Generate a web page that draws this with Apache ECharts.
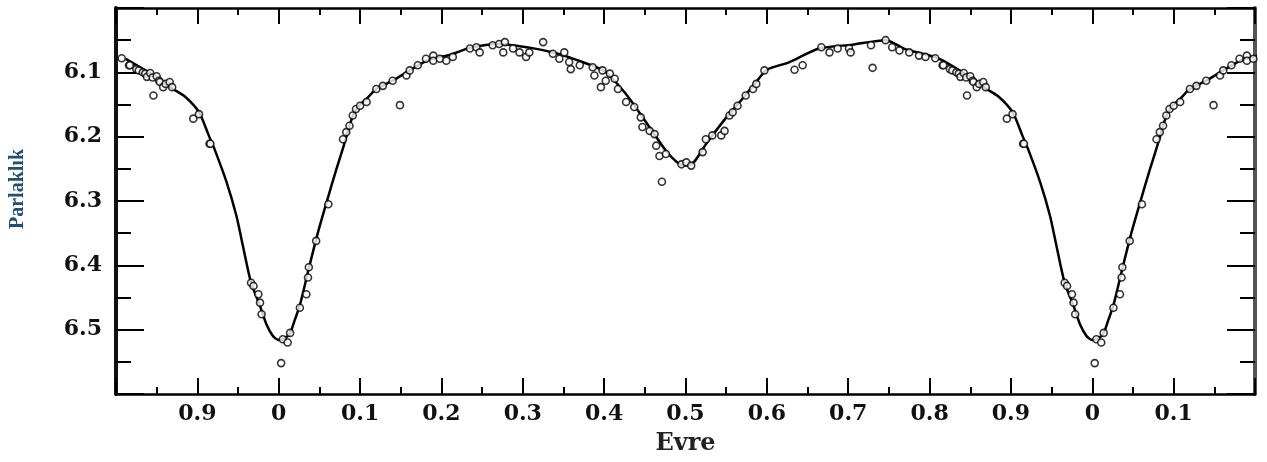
<!DOCTYPE html>
<html>
<head>
<meta charset="utf-8">
<script src="https://cdn.jsdelivr.net/npm/echarts@6/dist/echarts.min.js"></script>
<style>
  html, body { margin: 0; padding: 0; background: #fff; }
  #chart { width: 1267px; height: 462px; }
</style>
</head>
<body>
<div id="chart"></div>
<script>
// model light curve, one cycle (phase, magnitude)
const curvePhase = [0.000, 0.007, 0.014, 0.020, 0.026, 0.036, 0.048, 0.060, 0.071, 0.079, 0.085, 0.091, 0.097, 0.108, 0.120, 0.140, 0.161, 0.185, 0.210, 0.235, 0.270, 0.310, 0.340, 0.360, 0.400, 0.427, 0.443, 0.460, 0.476, 0.490, 0.500, 0.510, 0.525, 0.549, 0.570, 0.587, 0.600, 0.628, 0.664, 0.705, 0.746, 0.770, 0.812, 0.853, 0.869, 0.885, 0.902, 0.914, 0.921, 0.936, 0.948, 0.956, 0.966, 0.977, 0.985, 0.993, 1.000];
const curveMag = [6.516, 6.514, 6.505, 6.484, 6.462, 6.410, 6.350, 6.297, 6.250, 6.218, 6.192, 6.168, 6.154, 6.141, 6.126, 6.113, 6.097, 6.080, 6.073, 6.062, 6.056, 6.062, 6.070, 6.078, 6.098, 6.134, 6.162, 6.193, 6.222, 6.240, 6.245, 6.240, 6.212, 6.172, 6.141, 6.115, 6.096, 6.084, 6.063, 6.057, 6.050, 6.064, 6.079, 6.110, 6.125, 6.138, 6.162, 6.198, 6.219, 6.271, 6.323, 6.370, 6.427, 6.463, 6.492, 6.510, 6.516];

// observations, one cycle (phase, magnitude)
const obsPhase = [0.807, 0.817, 0.825, 0.833, 0.842, 0.838, 0.850, 0.854, 0.866, 0.858, 0.846, 0.895, 0.915,
  0.754, 0.763, 0.775, 0.787, 0.795, 0.816, 0.828, 0.836, 0.845, 0.853, 0.861, 0.869, 0.902, 0.916,
  0.966, 0.969, 0.975, 0.977, 0.979, 0.005, 0.011, 0.014, 0.003,
  0.026, 0.034, 0.036, 0.037, 0.046, 0.061, 0.079, 0.083, 0.087, 0.091, 0.095, 0.100, 0.108, 0.120, 0.128, 0.140, 0.149, 0.157, 0.161, 0.171, 0.181, 0.190, 0.190, 0.198, 0.206, 0.214, 0.235, 0.243, 0.247, 0.263, 0.271, 0.278, 0.276, 0.288, 0.296, 0.304, 0.308, 0.325,
  0.337, 0.345, 0.351, 0.357, 0.359, 0.370, 0.386, 0.388, 0.398, 0.407, 0.413, 0.396, 0.402, 0.417, 0.427, 0.437, 0.445, 0.447, 0.456, 0.462, 0.464, 0.476, 0.468, 0.495, 0.507, 0.501, 0.521, 0.471,
  0.525, 0.533, 0.544, 0.548, 0.554, 0.558, 0.564, 0.574, 0.583, 0.587, 0.597, 0.634, 0.644, 0.667, 0.677, 0.687, 0.701, 0.703, 0.728, 0.746, 0.730];
const obsMag = [6.078, 6.089, 6.095, 6.100, 6.101, 6.107, 6.106, 6.115, 6.115, 6.123, 6.136, 6.172, 6.211,
  6.061, 6.066, 6.069, 6.074, 6.076, 6.089, 6.097, 6.102, 6.108, 6.113, 6.118, 6.123, 6.165, 6.211,
  6.427, 6.432, 6.445, 6.458, 6.476, 6.515, 6.520, 6.505, 6.552,
  6.466, 6.445, 6.419, 6.403, 6.362, 6.305, 6.204, 6.193, 6.183, 6.167, 6.157, 6.152, 6.146, 6.126, 6.121, 6.113, 6.151, 6.105, 6.097, 6.089, 6.079, 6.074, 6.082, 6.079, 6.082, 6.076, 6.063, 6.061, 6.069, 6.058, 6.056, 6.053, 6.069, 6.063, 6.069, 6.076, 6.069, 6.053,
  6.071, 6.079, 6.069, 6.084, 6.095, 6.089, 6.092, 6.105, 6.097, 6.102, 6.110, 6.123, 6.113, 6.126, 6.146, 6.154, 6.170, 6.185, 6.191, 6.196, 6.214, 6.227, 6.230, 6.243, 6.245, 6.240, 6.224, 6.270,
  6.204, 6.198, 6.198, 6.191, 6.167, 6.162, 6.152, 6.136, 6.126, 6.118, 6.097, 6.096, 6.089, 6.061, 6.069, 6.063, 6.063, 6.069, 6.058, 6.050, 6.093];

const phaseMin = -0.2;
const phaseMax = 1.2;

// repeat the folded cycle over the plotted phase range
function wrap(ph, mag) {
    const out = [];
    for (let i = 0; i < ph.length; i++) {
        for (const shift of [-1, 0, 1]) {
            const p = ph[i] + shift;
            if (p >= phaseMin - 0.02 && p <= phaseMax + 0.02) out.push([p, mag[i]]);
        }
    }
    out.sort((a, b) => a[0] - b[0]);
    return out;
}

const curveData = wrap(curvePhase.slice(0, -1), curveMag.slice(0, -1));
const obsData = wrap(obsPhase, obsMag);

function phaseLabel(v) {
    let p = Math.round(v * 10);
    p = ((p % 10) + 10) % 10;
    return p === 0 ? '0' : '0.' + p;
}

const tickFont = {
    fontFamily: 'DejaVu Serif',
    fontWeight: 'bold',
    fontSize: 22,
    color: '#111'
};

function xAxisCfg(pos, withLabels) {
    return {
        type: 'value',
        position: pos,
        min: phaseMin,
        max: phaseMax,
        interval: 0.1,
        axisLine: { show: true, onZero: false, lineStyle: { color: '#000', width: 2.5 } },
        axisTick: { show: true, inside: true, length: 16, lineStyle: { color: '#000', width: 2 } },
        minorTick: { show: true, splitNumber: 2, length: 7, lineStyle: { color: '#000', width: 2 } },
        splitLine: { show: false },
        axisLabel: withLabels ? Object.assign({
            show: true,
            margin: 9,
            showMinLabel: false,
            showMaxLabel: false,
            formatter: phaseLabel
        }, tickFont) : { show: false },
        name: withLabels ? 'Evre' : '',
        nameLocation: 'middle',
        nameGap: 38,
        nameTextStyle: {
            fontFamily: 'DejaVu Serif',
            fontWeight: 'bold',
            fontSize: 24,
            color: '#222'
        }
    };
}

function yAxisCfg(pos, withLabels) {
    return {
        type: 'value',
        position: pos,
        inverse: true,
        min: 6.0,
        max: 6.6,
        interval: 0.1,
        axisLine: { show: true, onZero: false, lineStyle: { color: pos === 'right' ? '#555' : '#111', width: 4 } },
        axisTick: { show: true, inside: true, length: 28, lineStyle: { color: '#000', width: 2 } },
        minorTick: { show: true, splitNumber: 2, length: 15, lineStyle: { color: '#000', width: 2 } },
        splitLine: { show: false },
        axisLabel: withLabels ? Object.assign({
            show: true,
            margin: 14,
            showMinLabel: false,
            showMaxLabel: false,
            formatter: v => v.toFixed(1)
        }, tickFont) : { show: false },
        name: withLabels ? 'Parlaklık' : '',
        nameLocation: 'middle',
        nameGap: 88,
        nameRotate: 90,
        nameTextStyle: {
            fontFamily: 'Liberation Serif',
            fontWeight: 'bold',
            fontSize: 20,
            color: '#1f4f73',
            padding: [0, 0, 0, 24]
        }
    };
}

const chart = echarts.init(document.getElementById('chart'), null, { renderer: 'canvas' });
chart.setOption({
    backgroundColor: '#fff',
    animation: false,
    grid: { left: 115, right: 12, top: 8, bottom: 68 },
    xAxis: [xAxisCfg('bottom', true), xAxisCfg('top', false)],
    yAxis: [yAxisCfg('left', true), yAxisCfg('right', false)],
    series: [
        {
            name: 'model',
            type: 'line',
            xAxisIndex: 0,
            yAxisIndex: 0,
            data: curveData,
            showSymbol: false,
            smooth: 0.25,
            clip: true,
            lineStyle: { color: '#000', width: 2.5 },
            z: 2
        },
        {
            name: 'obs',
            type: 'scatter',
            xAxisIndex: 0,
            yAxisIndex: 0,
            data: obsData,
            symbol: 'circle',
            symbolSize: 7,
            clip: true,
            itemStyle: { color: '#fff', borderColor: '#000', borderWidth: 1.6 },
            z: 3
        }
    ]
});
</script>
</body>
</html>
